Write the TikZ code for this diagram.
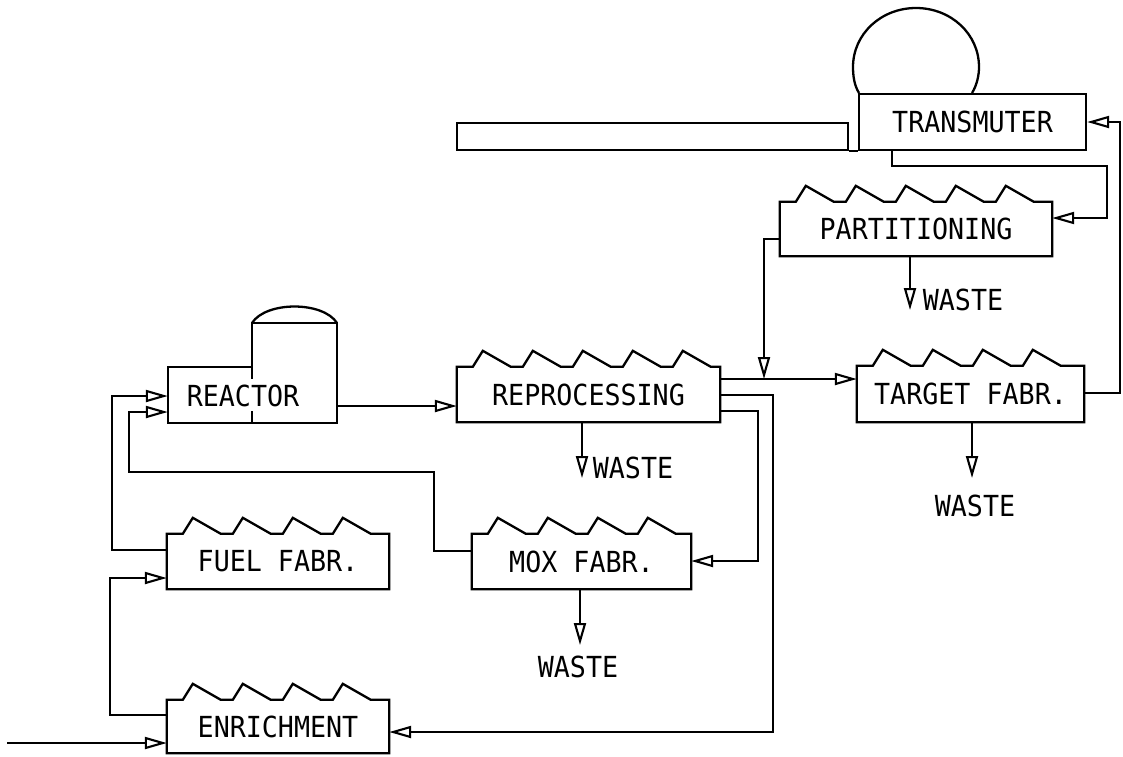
\documentclass[tikz,border=0pt]{standalone}
\usepackage{fontspec}
\newfontfamily\cad{DejaVu Sans Mono}[FakeStretch=0.92]
\usetikzlibrary{arrows.meta}
\newcommand\toothbox[2]{%
  \draw[box] (#1.north west) -- ++(4,0)
    \foreach \k in {1,...,#2}{ -- ++(12,0) -- ++(10,-16) -- ++(28,16) }
    -- (#1.north east) -- (#1.south east) -- (#1.south west) -- cycle;}
\begin{document}
\begin{tikzpicture}[x=1pt,y=-1pt,
  box/.style={line width=2.3pt, line join=miter},
  flow/.style={line width=2.1pt, -{Triangle[open,length=22pt,width=12pt]}},
  lbl/.style={font=\cad\fontsize{29}{30}\selectfont, inner sep=0pt},
  plant/.style={lbl, minimum width=#1},
  plant/.default=220pt]
\useasboundingbox (0,0) rectangle (1123,756);

% ---------- units ----------
\node[plant=227pt, minimum height=56pt, draw, box] (transmuter) at (972.5,122) {TRANSMUTER};
\node[plant=391pt, minimum height=27pt, draw, box] (bar) at (652.5,136.5) {};
\node[plant=272pt, minimum height=54pt] (partitioning) at (916,229) {PARTITIONING};
\node[plant=263pt, minimum height=55pt] (reprocessing) at (588.5,394.5) {REPROCESSING};
\node[plant=227pt, minimum height=56pt] (targetfabr) at (970.5,394) {TARGET FABR.};
\node[plant=169pt, minimum height=56pt] (reactor) at (252.5,395) {};
\node[lbl] (reactorlabel) at (243,396) {REACTOR};
\node[plant=222pt, minimum height=55pt] (fuelfabr) at (278,561.5) {FUEL FABR.};
\node[plant=219pt, minimum height=55pt] (moxfabr) at (581.5,561.5) {MOX FABR.};
\node[plant=222pt, minimum height=53pt] (enrichment) at (278,726.5) {ENRICHMENT};

\toothbox{partitioning}{5}
\toothbox{reprocessing}{5}
\toothbox{targetfabr}{4}
\toothbox{fuelfabr}{4}
\toothbox{moxfabr}{4}
\toothbox{enrichment}{4}

% reactor building with dome
\draw[box] (168,367) -- (252,367) -- (252,323) -- (337,323) -- (337,423) -- (168,423) -- cycle;
\draw[box] (252,367) -- (252,379) (252,411) -- (252,423);
\draw[box] (252,323) .. controls (266,301) and (323,301) .. (337,323);

% transmuter dome and beam line
\draw[box] (859,93) .. controls (854,85) and (853,75) .. (853,67)
  .. controls (853,34) and (881,8) .. (916,8)
  .. controls (951,8) and (979,34) .. (979,67)
  .. controls (979,75) and (977,85) .. (972,93);
\draw[box] (bar.south east) -- (transmuter.south west);

% ---------- bend points ----------
\coordinate (inA) at (7,743);
\coordinate (bB1) at (110,715);  \coordinate (bB2) at (110,578);
\coordinate (bC1) at (112,550);  \coordinate (bC2) at (112,396);
\coordinate (bD1) at (434,551);  \coordinate (bD2) at (434,472);
\coordinate (bD3) at (129,472);  \coordinate (bD4) at (129,412);
\coordinate (bE) at (400,406);
\coordinate (bF) at (764,379);
\coordinate (bG) at (764,239);
\coordinate (bH1) at (773,395);  \coordinate (bH2) at (773,732);
\coordinate (bI1) at (758,411);  \coordinate (bI2) at (758,561);
\coordinate (bJ1) at (1120,393); \coordinate (bJ2) at (1120,122);
\coordinate (bK1) at (892,166);  \coordinate (bK2) at (1107,166);
\coordinate (bK3) at (1107,218);
\coordinate (wp) at (910,310);
\coordinate (wr) at (582,478);
\coordinate (wt) at (972,478);
\coordinate (wm) at (580,645);

% ---------- connectors ----------
\draw[flow] (inA) -- (inA -| enrichment.west);
\draw[flow] (bB1 -| enrichment.west) -- (bB1) -- (bB2) -- (bB2 -| fuelfabr.west);
\draw[flow] (bC1 -| fuelfabr.west) -- (bC1) -- (bC2) -- (bC2 -| reactor.west);
\draw[flow] (bD1 -| moxfabr.west) -- (bD1) -- (bD2) -- (bD3) -- (bD4) -- (bD4 -| reactor.west);
\draw[flow] (bE -| reactor.east) -- (bE -| reprocessing.west);
\draw[flow] (bF -| reprocessing.east) -- (bF -| targetfabr.west);
\draw[flow] (bG -| partitioning.west) -- (bG) -- (bF);
\draw[flow] (bH1 -| reprocessing.east) -- (bH1) -- (bH2) -- (bH2 -| enrichment.east);
\draw[flow] (bI1 -| reprocessing.east) -- (bI1) -- (bI2) -- (bI2 -| moxfabr.east);
\draw[flow] (bJ1 -| targetfabr.east) -- (bJ1) -- (bJ2) -- (bJ2 -| transmuter.east);
\draw[flow] (bK1 |- transmuter.south) -- (bK1) -- (bK2) -- (bK3) -- (bK3 -| partitioning.east);

% ---------- waste ----------
\node[lbl] (wastep) at (963,300) {WASTE};
\node[lbl] (waster) at (633,468) {WASTE};
\node[lbl] (wastet) at (975,506) {WASTE};
\node[lbl] (wastem) at (578,667) {WASTE};
\draw[flow] (wp |- partitioning.south) -- (wp);
\draw[flow] (wr |- reprocessing.south) -- (wr);
\draw[flow] (wt |- targetfabr.south) -- (wt);
\draw[flow] (wm |- moxfabr.south) -- (wm);
\end{tikzpicture}
\end{document}
